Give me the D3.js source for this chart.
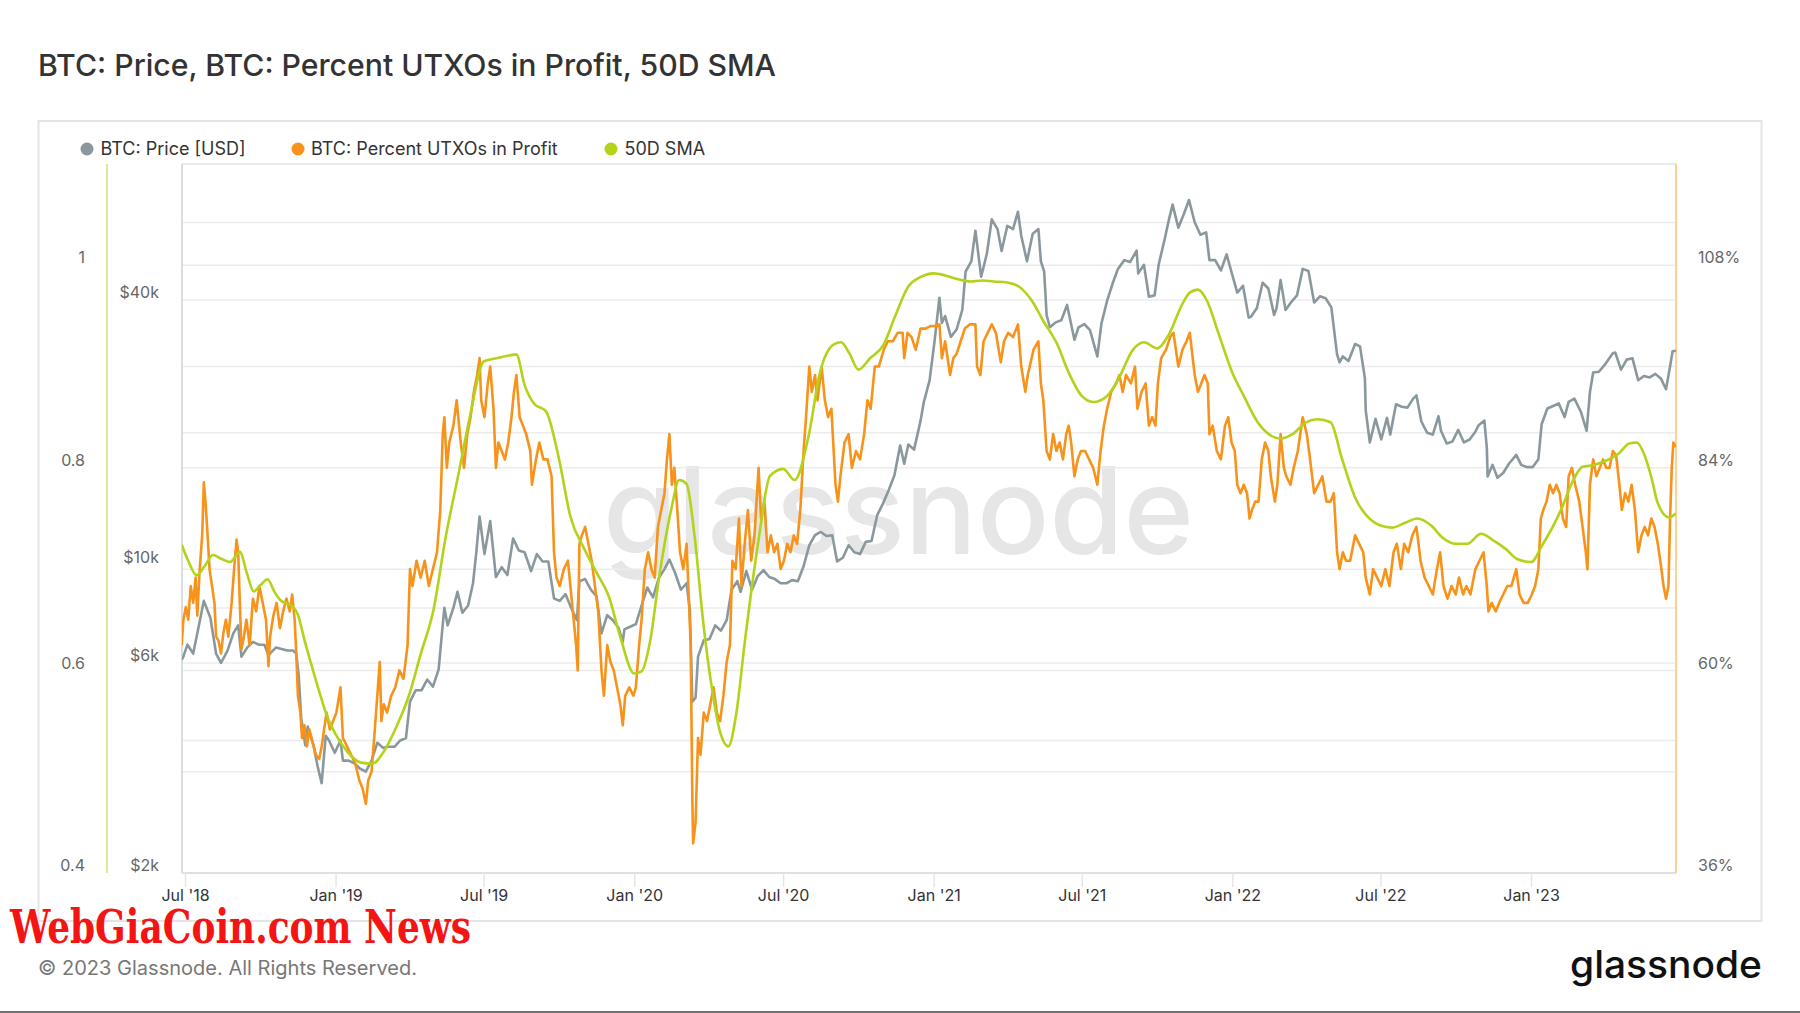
<!DOCTYPE html>
<html><head><meta charset="utf-8">
<script src="https://cdn.jsdelivr.net/npm/d3@7"></script>
<style>
body{margin:0;background:#fff;}
svg{display:block;font-family:Inter,"Noto Sans",sans-serif;}
</style></head>
<body><svg id="chart" width="1800" height="1013"></svg>
<script>
// ---------------- DATA ----------------
const titleText = "BTC: Price, BTC: Percent UTXOs in Profit, 50D SMA";
const seriesNames = ["BTC: Price [USD]", "BTC: Percent UTXOs in Profit", "50D SMA"];

const priceData = [
["2018-06-27",6100],["2018-06-29",6200],["2018-07-04",6600],["2018-07-11",6300],["2018-07-18",7300],["2018-07-24",8300],["2018-08-01",7600],["2018-08-08",6300],["2018-08-14",6000],["2018-08-22",6400],["2018-08-29",7000],["2018-09-04",7300],["2018-09-08",6200],["2018-09-15",6500],["2018-09-22",6700],["2018-09-29",6600],["2018-10-06",6600],["2018-10-11",6250],["2018-10-20",6500],["2018-10-27",6450],["2018-11-03",6400],["2018-11-10",6400],["2018-11-14",6300],["2018-11-17",5600],["2018-11-20",4500],["2018-11-25",3900],["2018-11-28",4300],["2018-12-05",3900],["2018-12-10",3500],["2018-12-15",3200],["2018-12-20",4100],["2018-12-24",4000],["2018-12-31",3750],
["2019-01-07",4000],["2019-01-10",3600],["2019-01-17",3600],["2019-01-24",3550],["2019-01-31",3450],["2019-02-07",3400],["2019-02-14",3600],["2019-02-21",3950],["2019-02-28",3850],["2019-03-07",3870],["2019-03-14",3870],["2019-03-21",4000],["2019-03-28",4050],["2019-04-02",4900],["2019-04-09",5200],["2019-04-16",5200],["2019-04-23",5500],["2019-04-30",5300],["2019-05-07",5800],["2019-05-11",7000],["2019-05-14",8000],["2019-05-18",7300],["2019-05-25",8000],["2019-05-30",8700],["2019-06-05",7800],["2019-06-12",8100],["2019-06-18",9100],["2019-06-22",10700],["2019-06-26",12900],["2019-07-02",10600],["2019-07-09",12600],["2019-07-16",9400],["2019-07-23",9900],["2019-07-30",9500],["2019-08-06",11500],["2019-08-13",10800],["2019-08-20",10700],["2019-08-28",9700],["2019-09-04",10600],["2019-09-11",10200],["2019-09-18",10200],["2019-09-25",8400],["2019-10-02",8300],["2019-10-09",8600],["2019-10-16",8000],["2019-10-23",7500],["2019-10-26",9200],["2019-11-02",9300],["2019-11-09",8800],["2019-11-16",8500],["2019-11-22",7000],["2019-11-29",7700],["2019-12-06",7500],["2019-12-13",7200],["2019-12-18",6700],["2019-12-20",7150],["2019-12-27",7250],
["2020-01-03",7350],["2020-01-10",8100],["2020-01-17",8900],["2020-01-24",8450],["2020-01-31",9350],["2020-02-07",9800],["2020-02-13",10300],["2020-02-20",9600],["2020-02-27",8800],["2020-03-05",9100],["2020-03-09",7900],["2020-03-12",4900],["2020-03-16",5000],["2020-03-19",6200],["2020-03-26",6750],["2020-04-02",6800],["2020-04-09",7300],["2020-04-16",7100],["2020-04-23",7500],["2020-04-29",8800],["2020-05-06",9200],["2020-05-10",8700],["2020-05-17",9700],["2020-05-24",8800],["2020-05-31",9450],["2020-06-07",9750],["2020-06-14",9400],["2020-06-21",9300],["2020-06-28",9100],["2020-07-05",9100],["2020-07-12",9250],["2020-07-19",9200],["2020-07-26",9950],["2020-08-02",11100],["2020-08-09",11700],["2020-08-16",11900],["2020-08-23",11650],["2020-08-30",11700],["2020-09-05",10200],["2020-09-12",10400],["2020-09-19",11100],["2020-09-26",10700],["2020-10-03",10600],["2020-10-10",11300],["2020-10-17",11350],["2020-10-24",13000],["2020-10-31",13800],["2020-11-07",14800],["2020-11-14",16000],["2020-11-21",18700],["2020-11-26",17000],["2020-12-01",18800],["2020-12-08",18300],["2020-12-16",21300],["2020-12-20",23500],["2020-12-27",26300],
["2021-01-02",32200],["2021-01-08",40500],["2021-01-11",35500],["2021-01-15",36800],["2021-01-22",33000],["2021-01-29",34300],["2021-02-05",38000],["2021-02-09",46400],["2021-02-16",49000],["2021-02-21",57500],["2021-02-28",45200],["2021-03-07",51000],["2021-03-13",61000],["2021-03-20",58000],["2021-03-25",51700],["2021-04-01",59000],["2021-04-08",58000],["2021-04-14",63500],["2021-04-18",56000],["2021-04-25",49000],["2021-05-02",56600],["2021-05-09",58000],["2021-05-12",49000],["2021-05-16",46500],["2021-05-19",37000],["2021-05-23",34700],["2021-05-30",35600],["2021-06-06",36000],["2021-06-13",39000],["2021-06-22",32500],["2021-06-27",34700],["2021-07-04",35300],["2021-07-11",34200],["2021-07-20",29800],["2021-07-25",35400],["2021-08-01",39900],["2021-08-08",43800],["2021-08-14",47000],["2021-08-22",49300],["2021-08-29",48800],["2021-09-06",51800],["2021-09-08",46000],["2021-09-15",48100],["2021-09-21",40700],["2021-09-28",41000],["2021-10-03",48200],["2021-10-10",54700],["2021-10-16",61500],["2021-10-20",65900],["2021-10-27",58400],["2021-11-03",62900],["2021-11-09",67500],["2021-11-16",60100],["2021-11-23",56300],["2021-11-30",57000],["2021-12-04",49300],["2021-12-11",49300],["2021-12-18",46700],["2021-12-25",50800],["2021-12-31",46300],
["2022-01-07",41600],["2022-01-14",43100],["2022-01-21",36500],["2022-01-24",36700],["2022-01-31",38400],["2022-02-07",43800],["2022-02-14",42500],["2022-02-21",37000],["2022-02-24",38300],["2022-03-01",44400],["2022-03-07",38000],["2022-03-14",39600],["2022-03-21",41000],["2022-03-28",47100],["2022-04-04",46600],["2022-04-11",39500],["2022-04-18",40800],["2022-04-25",40400],["2022-05-02",38500],["2022-05-09",30100],["2022-05-12",28900],["2022-05-16",29800],["2022-05-23",29100],["2022-05-31",31800],["2022-06-06",31400],["2022-06-12",26600],["2022-06-13",22500],["2022-06-18",19000],["2022-06-25",21500],["2022-07-02",19300],["2022-07-09",21600],["2022-07-13",19800],["2022-07-20",23200],["2022-07-27",22900],["2022-08-03",22800],["2022-08-10",23900],["2022-08-14",24300],["2022-08-20",21200],["2022-08-27",20000],["2022-09-03",19800],["2022-09-10",21800],["2022-09-13",20200],["2022-09-20",18900],["2022-09-27",19100],["2022-10-04",20300],["2022-10-11",19000],["2022-10-18",19300],["2022-10-25",20100],["2022-10-29",20800],["2022-11-05",21300],["2022-11-08",18500],["2022-11-09",15900],["2022-11-15",16900],["2022-11-21",15800],["2022-11-28",16200],["2022-12-05",17000],["2022-12-14",17800],["2022-12-20",16900],["2022-12-27",16700],
["2023-01-03",16700],["2023-01-10",17400],["2023-01-14",20900],["2023-01-21",22700],["2023-01-28",23000],["2023-02-04",23300],["2023-02-11",21700],["2023-02-16",23500],["2023-02-23",23900],["2023-03-03",22300],["2023-03-10",20200],["2023-03-14",24700],["2023-03-18",27400],["2023-03-25",27500],["2023-04-01",28500],["2023-04-11",30300],["2023-04-14",30400],["2023-04-21",27800],["2023-04-28",29300],["2023-05-05",29500],["2023-05-12",26300],["2023-05-19",26900],["2023-05-26",26700],["2023-06-02",27200],["2023-06-09",26500],["2023-06-15",25100],["2023-06-20",28300],["2023-06-23",30600],["2023-06-27",30700]
];

const profitData = [
["2018-06-27",63],["2018-06-29",66],["2018-07-02",67.5],["2018-07-05",66],["2018-07-08",70],["2018-07-11",68],["2018-07-14",71],["2018-07-16",66.5],["2018-07-19",72],["2018-07-22",76],["2018-07-24",82.3],["2018-07-26",80],["2018-07-28",77],["2018-07-31",72],["2018-08-03",70],["2018-08-06",68],["2018-08-08",64],["2018-08-11",63.5],["2018-08-14",62],["2018-08-17",64.5],["2018-08-20",66],["2018-08-23",64],["2018-08-27",68],["2018-08-30",72],["2018-09-02",75.5],["2018-09-04",74],["2018-09-06",68],["2018-09-08",62.5],["2018-09-11",64],["2018-09-14",66],["2018-09-18",63],["2018-09-22",68.5],["2018-09-26",67],["2018-09-30",70],["2018-10-04",68],["2018-10-08",66],["2018-10-11",60.5],["2018-10-13",64],["2018-10-17",66.5],["2018-10-21",68],["2018-10-25",65],["2018-10-29",67],["2018-11-02",68.5],["2018-11-06",67],["2018-11-09",69],["2018-11-12",66],["2018-11-14",62],["2018-11-16",57],["2018-11-19",55],["2018-11-21",52],["2018-11-24",53.5],["2018-11-27",51],["2018-11-30",53],["2018-12-04",51.5],["2018-12-08",50],["2018-12-12",49.5],["2018-12-15",51],["2018-12-18",53],["2018-12-21",55],["2018-12-25",53],["2018-12-29",54],
["2019-01-02",55],["2019-01-07",58],["2019-01-10",52],["2019-01-15",51],["2019-01-20",50],["2019-01-25",49],["2019-01-30",47],["2019-02-03",46],["2019-02-07",44.2],["2019-02-10",47],["2019-02-14",48],["2019-02-18",53],["2019-02-21",57],["2019-02-24",61],["2019-02-26",54],["2019-03-01",56],["2019-03-05",55],["2019-03-10",57],["2019-03-15",58],["2019-03-20",60],["2019-03-25",59],["2019-03-30",63],["2019-04-02",72],["2019-04-05",70],["2019-04-10",73],["2019-04-15",71],["2019-04-20",73],["2019-04-25",70],["2019-04-30",72],["2019-05-05",74],["2019-05-09",79],["2019-05-12",88],["2019-05-14",90],["2019-05-17",84],["2019-05-20",87],["2019-05-25",89],["2019-05-29",92],["2019-06-03",87],["2019-06-07",84],["2019-06-11",88],["2019-06-15",90],["2019-06-19",93],["2019-06-23",95],["2019-06-26",97],["2019-06-28",92],["2019-07-02",90],["2019-07-06",94],["2019-07-09",96],["2019-07-13",91],["2019-07-16",84],["2019-07-19",87],["2019-07-23",86],["2019-07-27",85],["2019-07-31",87],["2019-08-04",90],["2019-08-07",93],["2019-08-10",95],["2019-08-14",90],["2019-08-18",89],["2019-08-22",88],["2019-08-27",86],["2019-08-29",82],["2019-09-03",85],["2019-09-07",87],["2019-09-12",85],["2019-09-17",85],["2019-09-22",83],["2019-09-25",74],["2019-09-28",71],["2019-10-02",70],["2019-10-07",72],["2019-10-12",73],["2019-10-17",68],["2019-10-22",63],["2019-10-24",60],["2019-10-26",75],["2019-10-29",76],["2019-11-02",77],["2019-11-06",75],["2019-11-10",73],["2019-11-14",70],["2019-11-18",67],["2019-11-22",60],["2019-11-25",57],["2019-11-29",63],["2019-12-03",61],["2019-12-07",60],["2019-12-11",58],["2019-12-15",56],["2019-12-18",53.5],["2019-12-21",57],["2019-12-26",58],["2019-12-31",57],
["2020-01-03",58],["2020-01-07",63],["2020-01-10",66],["2020-01-14",72],["2020-01-18",74],["2020-01-22",72],["2020-01-26",71],["2020-01-30",77],["2020-02-03",79],["2020-02-07",81],["2020-02-10",85],["2020-02-13",88],["2020-02-16",82],["2020-02-19",84],["2020-02-22",80],["2020-02-26",74],["2020-03-01",72],["2020-03-05",75],["2020-03-08",68],["2020-03-10",63],["2020-03-12",45],["2020-03-13",39.5],["2020-03-16",42],["2020-03-19",52],["2020-03-22",50],["2020-03-26",55],["2020-03-30",54],["2020-04-03",56],["2020-04-07",58],["2020-04-11",55],["2020-04-15",54],["2020-04-19",57],["2020-04-23",61],["2020-04-27",63],["2020-04-30",73],["2020-05-04",72],["2020-05-08",78],["2020-05-11",70],["2020-05-15",75],["2020-05-19",79],["2020-05-23",73],["2020-05-27",76],["2020-06-01",84],["2020-06-04",78],["2020-06-08",80],["2020-06-12",74],["2020-06-16",76],["2020-06-20",74],["2020-06-24",75],["2020-06-28",72],["2020-07-02",73],["2020-07-06",75],["2020-07-10",74],["2020-07-14",76],["2020-07-18",75],["2020-07-22",79],["2020-07-26",86],["2020-07-29",90],["2020-08-02",96],["2020-08-05",93],["2020-08-09",95],["2020-08-12",92],["2020-08-17",96],["2020-08-21",92],["2020-08-25",90],["2020-08-29",91],["2020-09-03",82],["2020-09-06",80],["2020-09-09",83],["2020-09-14",87],["2020-09-19",88],["2020-09-23",84],["2020-09-28",86],["2020-10-03",85],["2020-10-08",88],["2020-10-12",92],["2020-10-16",91],["2020-10-21",96],["2020-10-26",96],["2020-11-01",98],["2020-11-06",99],["2020-11-12",99],["2020-11-18",100],["2020-11-24",100],["2020-11-26",97],["2020-11-30",100],["2020-12-05",99.5],["2020-12-10",98],["2020-12-16",100.5],["2020-12-22",100.5],["2020-12-28",100.8],
["2021-01-03",100.8],["2021-01-08",101],["2021-01-11",97],["2021-01-15",99],["2021-01-21",95],["2021-01-25",97],["2021-01-29",97.5],["2021-02-03",99],["2021-02-08",100.5],["2021-02-14",101],["2021-02-21",101],["2021-02-23",96],["2021-02-27",95],["2021-03-03",99],["2021-03-08",100],["2021-03-13",101],["2021-03-18",100],["2021-03-24",96.5],["2021-03-28",99],["2021-04-02",100],["2021-04-08",99.5],["2021-04-14",101],["2021-04-18",96],["2021-04-23",93],["2021-04-26",95],["2021-05-03",98],["2021-05-09",99],["2021-05-12",94],["2021-05-15",92],["2021-05-19",86],["2021-05-23",85],["2021-05-27",88],["2021-05-31",86],["2021-06-04",87],["2021-06-08",85],["2021-06-12",88],["2021-06-15",89],["2021-06-18",87],["2021-06-22",83],["2021-06-26",85],["2021-06-30",86],["2021-07-05",86],["2021-07-10",85],["2021-07-15",84],["2021-07-20",82],["2021-07-24",86],["2021-07-28",89],["2021-08-01",91],["2021-08-06",93],["2021-08-12",94],["2021-08-16",95],["2021-08-20",93],["2021-08-24",95],["2021-08-30",94],["2021-09-04",96],["2021-09-07",91],["2021-09-12",93],["2021-09-17",94],["2021-09-21",89],["2021-09-25",90],["2021-09-29",89],["2021-10-02",94],["2021-10-06",97],["2021-10-12",98],["2021-10-17",99.5],["2021-10-21",100],["2021-10-27",96],["2021-11-01",98],["2021-11-06",99],["2021-11-10",100],["2021-11-16",95],["2021-11-20",93],["2021-11-24",94],["2021-11-28",95],["2021-12-02",94],["2021-12-04",88],["2021-12-08",89],["2021-12-13",86],["2021-12-18",85],["2021-12-23",89],["2021-12-27",90],["2021-12-31",87],
["2022-01-04",86],["2022-01-07",82],["2022-01-11",81],["2022-01-15",82],["2022-01-19",81],["2022-01-22",78],["2022-01-25",79],["2022-01-29",80],["2022-02-02",80],["2022-02-06",85],["2022-02-10",87],["2022-02-14",86],["2022-02-17",83],["2022-02-22",80],["2022-02-25",82],["2022-03-01",88],["2022-03-05",84],["2022-03-08",83],["2022-03-13",82],["2022-03-17",84],["2022-03-22",86],["2022-03-28",90],["2022-04-02",88],["2022-04-06",85],["2022-04-11",81],["2022-04-16",82],["2022-04-21",83],["2022-04-26",80],["2022-05-01",80],["2022-05-05",81],["2022-05-09",74],["2022-05-12",72],["2022-05-16",74],["2022-05-20",73],["2022-05-25",73],["2022-05-31",76],["2022-06-05",75],["2022-06-10",74],["2022-06-13",71],["2022-06-18",69],["2022-06-22",72],["2022-06-27",71],["2022-07-02",70],["2022-07-07",72],["2022-07-12",70],["2022-07-17",74],["2022-07-21",75],["2022-07-26",72],["2022-07-30",75],["2022-08-04",74],["2022-08-09",76],["2022-08-14",77],["2022-08-19",73],["2022-08-24",71],["2022-08-29",70],["2022-09-03",69],["2022-09-08",72],["2022-09-12",74],["2022-09-16",70],["2022-09-21",68.5],["2022-09-26",70],["2022-10-01",69],["2022-10-05",71],["2022-10-10",69],["2022-10-14",70],["2022-10-19",69],["2022-10-25",72],["2022-10-30",73],["2022-11-04",74],["2022-11-08",70],["2022-11-10",67],["2022-11-14",68],["2022-11-19",67],["2022-11-23",68],["2022-11-28",69],["2022-12-03",70],["2022-12-08",70],["2022-12-14",72],["2022-12-18",69],["2022-12-23",68],["2022-12-28",68],
["2023-01-02",69],["2023-01-06",70],["2023-01-10",72],["2023-01-13",78],["2023-01-16",79],["2023-01-20",80],["2023-01-24",82],["2023-01-28",81],["2023-02-01",82],["2023-02-05",81],["2023-02-09",78],["2023-02-13",77],["2023-02-16",83],["2023-02-20",84],["2023-02-24",82],["2023-03-01",80],["2023-03-05",77],["2023-03-09",74],["2023-03-11",72],["2023-03-14",82],["2023-03-18",85],["2023-03-22",83],["2023-03-26",84],["2023-03-30",85],["2023-04-03",84],["2023-04-07",84],["2023-04-11",86],["2023-04-15",85.5],["2023-04-19",82],["2023-04-22",79],["2023-04-26",81],["2023-04-30",80],["2023-05-04",82],["2023-05-08",79],["2023-05-12",74],["2023-05-16",76],["2023-05-20",77],["2023-05-24",76],["2023-05-28",78],["2023-06-01",77],["2023-06-05",75],["2023-06-08",73],["2023-06-12",70],["2023-06-15",68.5],["2023-06-18",70],["2023-06-20",78],["2023-06-22",84],["2023-06-24",87],["2023-06-27",86.5]
];

const smaData = [
["2018-06-27",0.724],["2018-07-05",0.708],["2018-07-15",0.694],["2018-07-25",0.703],["2018-08-04",0.714],["2018-08-15",0.710],["2018-08-25",0.707],["2018-09-06",0.717],["2018-09-15",0.695],["2018-09-23",0.678],["2018-10-01",0.684],["2018-10-10",0.690],["2018-10-18",0.678],["2018-10-26",0.669],["2018-11-10",0.663],["2018-11-16",0.655],["2018-11-24",0.630],["2018-12-02",0.607],["2018-12-14",0.574],["2018-12-22",0.554],
["2019-01-01",0.537],["2019-01-15",0.520],["2019-02-01",0.509],["2019-02-15",0.508],["2019-03-01",0.520],["2019-03-15",0.542],["2019-04-01",0.576],["2019-04-15",0.616],["2019-05-01",0.661],["2019-05-15",0.729],["2019-06-01",0.797],["2019-06-15",0.854],["2019-07-01",0.905],["2019-07-15",0.908],["2019-08-01",0.911],["2019-08-10",0.912],["2019-08-20",0.882],["2019-09-01",0.863],["2019-09-15",0.856],["2019-10-01",0.809],["2019-10-15",0.752],["2019-11-01",0.720],["2019-11-15",0.698],["2019-12-01",0.673],["2019-12-15",0.633],
["2020-01-01",0.597],["2020-01-10",0.599],["2020-01-20",0.627],["2020-02-01",0.695],["2020-02-15",0.758],["2020-02-25",0.788],["2020-03-05",0.784],["2020-03-15",0.731],["2020-03-25",0.650],["2020-04-05",0.582],["2020-04-15",0.539],["2020-04-25",0.525],["2020-05-05",0.559],["2020-05-15",0.627],["2020-06-01",0.729],["2020-06-15",0.792],["2020-07-01",0.799],["2020-07-15",0.788],["2020-08-01",0.831],["2020-08-15",0.894],["2020-09-01",0.922],["2020-09-10",0.924],["2020-09-20",0.913],["2020-10-01",0.897],["2020-10-15",0.908],["2020-11-01",0.922],["2020-11-15",0.950],["2020-12-01",0.979],["2020-12-15",0.988],
["2021-01-01",0.992],["2021-01-15",0.990],["2021-02-01",0.986],["2021-02-15",0.984],["2021-03-01",0.985],["2021-03-15",0.984],["2021-04-01",0.983],["2021-04-15",0.979],["2021-05-01",0.965],["2021-05-15",0.945],["2021-06-01",0.922],["2021-06-15",0.894],["2021-07-01",0.871],["2021-07-15",0.865],["2021-08-01",0.871],["2021-08-15",0.888],["2021-09-01",0.916],["2021-09-15",0.924],["2021-10-01",0.918],["2021-10-15",0.931],["2021-11-01",0.962],["2021-11-10",0.973],["2021-11-20",0.976],["2021-12-01",0.965],["2021-12-15",0.933],
["2022-01-01",0.894],["2022-01-15",0.871],["2022-02-01",0.845],["2022-02-15",0.833],["2022-03-01",0.829],["2022-03-15",0.833],["2022-04-01",0.845],["2022-04-15",0.848],["2022-05-01",0.845],["2022-05-15",0.809],["2022-06-01",0.769],["2022-06-15",0.752],["2022-07-01",0.743],["2022-07-15",0.741],["2022-08-01",0.746],["2022-08-15",0.750],["2022-09-01",0.743],["2022-09-15",0.731],["2022-10-01",0.725],["2022-10-15",0.725],["2022-11-01",0.735],["2022-11-15",0.729],["2022-12-01",0.720],["2022-12-15",0.710],
["2023-01-01",0.707],["2023-01-15",0.724],["2023-02-07",0.759],["2023-02-20",0.785],["2023-03-05",0.801],["2023-03-20",0.803],["2023-04-05",0.808],["2023-04-18",0.814],["2023-05-01",0.824],["2023-05-10",0.825],["2023-05-20",0.812],["2023-05-28",0.791],["2023-06-05",0.765],["2023-06-19",0.751],["2023-06-27",0.755]
];

const smaTicks = [0.4,0.5,0.6,0.7,0.8,0.9,1.0,1.1];
const smaLabelTicks = [0.4,0.6,0.8,1.0];
const priceGridTicks = [4000,6000,8000,20000,40000,60000];
const priceLabelTicks = [2000,6000,10000,40000];
const pctTicks = [36,48,60,72,84,96,108,120];
const pctLabelTicks = [36,60,84,108];
const xTickDates = ["2018-07-01","2019-01-01","2019-07-01","2020-01-01","2020-07-01","2021-01-01","2021-07-01","2022-01-01","2022-07-01","2023-01-01"];

// ---------------- LAYOUT ----------------
const W = 1800, H = 1013;
const plot = {left:182, right:1676, top:164, bottom:873};
const colors = {price:"#8a989e", profit:"#f7931a", sma:"#b2d31a"};
const parse = d3.utcParse("%Y-%m-%d");

const svg = d3.select("#chart");
svg.append("rect").attr("width",W).attr("height",H).attr("fill","#fff");

// title
svg.append("text").attr("x",38).attr("y",76).attr("font-size",30).attr("font-weight",500)
  .attr("fill","#333").attr("textLength",738).attr("lengthAdjust","spacingAndGlyphs").text(titleText);

// outer container
svg.append("rect").attr("x",38.5).attr("y",121).attr("width",1723).attr("height",800)
  .attr("fill","none").attr("stroke","#e4e4e4").attr("stroke-width",2);

// scales
const x = d3.scaleUtc().domain([parse("2018-07-01"), parse("2023-01-01")]).range([185, 1531]);
const yPrice = d3.scaleLog().domain([2000, 81500]).range([plot.bottom, plot.top]);
const yPct = d3.scaleLinear().domain([36,120]).range([plot.bottom, plot.top]);
const ySma = d3.scaleLinear().domain([0.4,1.1]).range([plot.bottom, plot.top]);

// watermark
svg.append("text").attr("x",603).attr("y",554).attr("font-size",121).attr("font-weight",500)
  .attr("fill","#e6e6e6").attr("textLength",591).attr("lengthAdjust","spacingAndGlyphs").text("glassnode");

// gridlines
const grid = svg.append("g").attr("stroke","#ececec").attr("stroke-width",1.5);
pctTicks.forEach(t => grid.append("line").attr("x1",plot.left).attr("x2",plot.right).attr("y1",yPct(t)).attr("y2",yPct(t)));
priceGridTicks.forEach(t => grid.append("line").attr("x1",plot.left).attr("x2",plot.right).attr("y1",yPrice(t)).attr("y2",yPrice(t)));

// plot borders
svg.append("line").attr("x1",plot.left).attr("x2",plot.right).attr("y1",plot.top).attr("y2",plot.top).attr("stroke","#e6e6e6").attr("stroke-width",1.5);
svg.append("line").attr("x1",plot.left).attr("x2",plot.left).attr("y1",plot.top).attr("y2",plot.bottom).attr("stroke","#ccd3da").attr("stroke-width",1.5);
svg.append("line").attr("x1",plot.left).attr("x2",plot.right).attr("y1",plot.bottom).attr("y2",plot.bottom).attr("stroke","#dde1e5").attr("stroke-width",2);

// axes
function styleAxis(g, color){
  g.select(".domain").remove();
  g.selectAll(".tick line").remove();
  g.selectAll(".tick text").attr("fill",color).attr("font-size",16).attr("font-family","Inter, 'Noto Sans', sans-serif")
    .attr("y",-8).attr("dy","0.35em");
}
const gSma = svg.append("g").attr("transform",`translate(107,0)`)
  .call(d3.axisLeft(ySma).tickValues(smaLabelTicks).tickSize(0).tickPadding(22).tickFormat(d3.format("~g")));
styleAxis(gSma,"#666");
svg.append("line").attr("x1",107).attr("x2",107).attr("y1",plot.top).attr("y2",plot.bottom).attr("stroke","#dbe99a").attr("stroke-width",2);

const gPrice = svg.append("g").attr("transform",`translate(${plot.left},0)`)
  .call(d3.axisLeft(yPrice).tickValues(priceLabelTicks).tickSize(0).tickPadding(23).tickFormat(d => "$" + (d/1000) + "k"));
styleAxis(gPrice,"#666");

const gPct = svg.append("g").attr("transform",`translate(${plot.right},0)`)
  .call(d3.axisRight(yPct).tickValues(pctLabelTicks).tickSize(0).tickPadding(22).tickFormat(d => d + "%"));
styleAxis(gPct,"#666");
svg.append("line").attr("x1",plot.right).attr("x2",plot.right).attr("y1",plot.top).attr("y2",plot.bottom).attr("stroke","#ffcf94").attr("stroke-width",2);

const gx = svg.append("g").attr("transform",`translate(0,${plot.bottom})`)
  .call(d3.axisBottom(x).tickValues(xTickDates.map(parse)).tickSize(14).tickPadding(3).tickFormat(d3.utcFormat("%b '%y")));
gx.select(".domain").remove();
gx.selectAll(".tick line").attr("stroke","#e6e6e6").attr("stroke-width",1.5);
gx.selectAll(".tick text").attr("fill","#333").attr("font-size",16).attr("font-family","Inter, 'Noto Sans', sans-serif");

// clip
svg.append("clipPath").attr("id","clip").append("rect")
  .attr("x",plot.left).attr("y",plot.top-5).attr("width",plot.right-plot.left).attr("height",plot.bottom-plot.top+5);
const lines = svg.append("g").attr("clip-path","url(#clip)");

const linePrice = d3.line().x(d => x(parse(d[0]))).y(d => yPrice(d[1]));
const lineProfit = d3.line().x(d => x(parse(d[0]))).y(d => yPct(d[1]));
const lineSma = d3.line().curve(d3.curveMonotoneX).x(d => x(parse(d[0]))).y(d => ySma(d[1]));

lines.append("path").datum(priceData).attr("d",linePrice).attr("fill","none").attr("stroke",colors.price).attr("stroke-width",2.6).attr("stroke-linejoin","round");
lines.append("path").datum(profitData).attr("d",lineProfit).attr("fill","none").attr("stroke",colors.profit).attr("stroke-width",2.6).attr("stroke-linejoin","round");
lines.append("path").datum(smaData).attr("d",lineSma).attr("fill","none").attr("stroke",colors.sma).attr("stroke-width",2.6).attr("stroke-linejoin","round");

// legend
const legendItems = [
  {name:seriesNames[0], color:colors.price, cx:87, tx:100.5},
  {name:seriesNames[1], color:colors.profit, cx:298, tx:311},
  {name:seriesNames[2], color:colors.sma, cx:611, tx:624.5}
];
const lg = svg.append("g");
legendItems.forEach(it => {
  lg.append("circle").attr("cx",it.cx).attr("cy",149).attr("r",6.5).attr("fill",it.color);
  lg.append("text").attr("x",it.tx).attr("y",155).attr("font-size",18).attr("fill","#333").text(it.name);
});

// footer
svg.append("text").attr("x",38).attr("y",975).attr("font-size",19.5).attr("fill","#777")
  .attr("textLength",379).attr("lengthAdjust","spacingAndGlyphs").text("© 2023 Glassnode. All Rights Reserved.");
svg.append("text").attr("x",1570).attr("y",978).attr("font-size",38).attr("font-weight",500).attr("fill","#111")
  .attr("textLength",192).attr("lengthAdjust","spacingAndGlyphs").text("glassnode");

// red overlay text
svg.append("text").attr("x",10).attr("y",943).attr("font-size",46).attr("font-weight",900)
  .attr("font-family","'DejaVu Serif', serif").attr("font-stretch","condensed").attr("fill","#f41414")
  .attr("textLength",461).attr("lengthAdjust","spacingAndGlyphs").text("WebGiaCoin.com News");

// bottom rule
svg.append("rect").attr("x",0).attr("y",1011).attr("width",W).attr("height",2).attr("fill","#707070");
</script>
</body></html>
